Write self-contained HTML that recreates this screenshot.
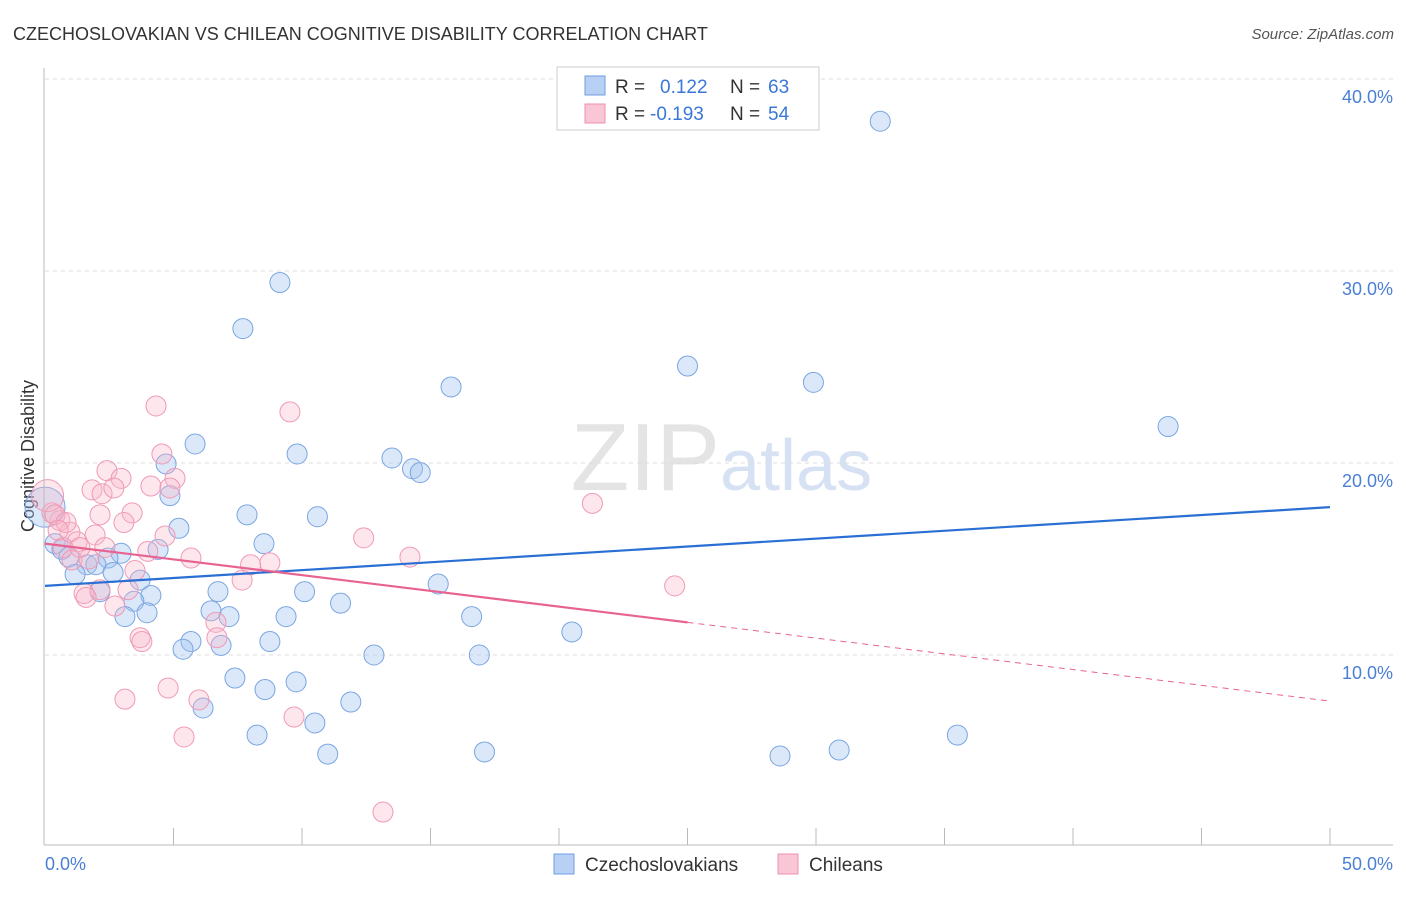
<!DOCTYPE html>
<html><head><meta charset="utf-8"><style>
body{margin:0;background:#fff;font-family:"Liberation Sans",sans-serif;}
svg text{font-family:"Liberation Sans",sans-serif;}
</style></head><body>
<svg id="c" width="1406" height="892" xmlns="http://www.w3.org/2000/svg">
<text x="13" y="40" font-size="18" fill="#333">CZECHOSLOVAKIAN VS CHILEAN COGNITIVE DISABILITY CORRELATION CHART</text>
<text x="1394" y="39" font-size="15" fill="#555" font-style="italic" text-anchor="end">Source: ZipAtlas.com</text>
<text x="720" y="490" font-size="96" fill="#e4e4e4" font-family="Liberation Serif" text-anchor="end">ZIP</text>
<text x="720" y="490" font-size="72" fill="#d6e2f4">atlas</text>
<text transform="translate(34,456) rotate(-90)" font-size="18" fill="#333" text-anchor="middle">Cognitive Disability</text>
<g id="grid"></g><g id="pts"></g><g id="trend"></g>
<line x1="44" y1="68" x2="44" y2="845" stroke="#bbb"/>
<line x1="44" y1="845" x2="1393" y2="845" stroke="#bbb"/>
<text x="45" y="870" font-size="18" fill="#4a7fd6">0.0%</text>
<text x="1393" y="870" font-size="18" fill="#4a7fd6" text-anchor="end">50.0%</text>
<g>
<rect x="557" y="67" width="262" height="63" fill="#fff" stroke="#ccc"/>
<rect x="585" y="76" width="20" height="19" fill="#b9d0f5" stroke="#6e9de0"/>
<rect x="585" y="104" width="20" height="19" fill="#f9c6d6" stroke="#ee8fae"/>
<text x="615" y="93" font-size="19" fill="#333">R =</text><text x="660" y="93" font-size="19" fill="#3a78d8">0.122</text>
<text x="730" y="93" font-size="19" fill="#333">N =</text><text x="768" y="93" font-size="19" fill="#3a78d8">63</text>
<text x="615" y="120" font-size="19" fill="#333">R =</text><text x="650" y="120" font-size="19" fill="#3a78d8">-0.193</text>
<text x="730" y="120" font-size="19" fill="#333">N =</text><text x="768" y="120" font-size="19" fill="#3a78d8">54</text>
</g>
<g>
<rect x="554" y="854" width="20" height="20" fill="#b9d0f5" stroke="#6e9de0"/>
<text x="585" y="871" font-size="19" fill="#333">Czechoslovakians</text>
<rect x="778" y="854" width="20" height="20" fill="#f9c6d6" stroke="#ee8fae"/>
<text x="809" y="871" font-size="19" fill="#333">Chileans</text>
</g>
</svg>
<script>
const yTicks=[10,20,30,40];
const yTickLabels=["10.0%","20.0%","30.0%","40.0%"];
const xTicks=[5,10,15,20,25,30,35,40,45,50];
const blueX=[32.5,9.14,7.7,25.0,29.9,15.8,43.7,5.84,9.81,13.5,4.71,14.3,14.6,4.86,7.86,10.6,5.21,8.52,0.39,4.4,0.66,2.96,0.93,2.45,1.63,1.98,2.65,1.17,3.7,15.3,6.73,10.1,2.14,4.12,3.46,11.5,6.46,7.16,3.11,3.97,9.38,16.6,20.5,5.68,8.75,5.37,6.85,12.8,16.9,7.39,8.56,9.77,11.9,6.15,10.5,8.25,11.0,17.1,28.6,30.9,35.5,0];
const blueY=[37.8,29.4,27.0,25.05,24.2,23.96,21.9,20.99,20.47,20.26,19.95,19.7,19.5,18.3,17.3,17.2,16.6,15.8,15.8,15.5,15.5,15.3,15.1,15.05,14.7,14.7,14.3,14.2,13.9,13.7,13.3,13.3,13.3,13.1,12.8,12.7,12.3,12.0,12.0,12.2,12.0,12.0,11.2,10.7,10.7,10.3,10.5,10.0,10.0,8.8,8.2,8.6,7.55,7.24,6.46,5.83,4.84,4.95,4.74,5.05,5.83,17.7];
const blueSize=[];blueSize[61]=2;
const pinkX=[4.32,9.53,4.55,2.41,1.83,2.96,2.22,2.68,4.12,5.06,4.86,21.3,3.39,2.14,3.07,0.58,0.27,0.1,0.97,1.95,12.4,4.67,1.25,0.7,2.33,4.0,5.68,14.2,1.05,1.71,8.75,3.5,8.0,7.67,24.5,2.14,1.52,3.23,2.72,6.65,6.69,3.7,3.77,4.79,3.11,5.99,9.69,5.41,13.15,0.39,0.82,1.36,0.51,1.6];
const pinkY=[22.97,22.66,20.47,19.6,18.6,19.2,18.4,18.7,18.8,19.2,18.7,17.9,17.4,17.3,16.9,17.0,17.4,18.3,16.4,16.25,16.1,16.2,15.9,15.6,15.6,15.4,15.05,15.1,14.95,15.0,14.8,14.4,14.7,13.9,13.6,13.4,13.2,13.4,12.55,11.7,10.9,10.9,10.7,8.28,7.7,7.66,6.77,5.73,1.82,17.3,16.9,15.6,16.5,13.0];
const pinkSize=[];pinkSize[17]=1.6;
const blueTrend=[13.6,17.7];
const pinkTrend=[15.8,7.6];
const pinkSolidEnd=25;
const X=v=>45+v*25.7, Y=v=>847-v*19.2;
const NS="http://www.w3.org/2000/svg";
function mk(tag,attrs,parent){const e=document.createElementNS(NS,tag);for(const k in attrs)e.setAttribute(k,attrs[k]);parent.appendChild(e);return e;}
const grid=document.getElementById('grid'),pts=document.getElementById('pts'),tr=document.getElementById('trend');
yTicks.forEach((t,i)=>{
 const l=mk('line',{x1:45,x2:1393,y1:Y(t),y2:Y(t),stroke:'#ddd','stroke-dasharray':'4,4'},grid);
 
 
 const tx=mk('text',{x:1393,y:Y(t)+24,'font-size':18,fill:'#4a7fd6','text-anchor':'end'},grid);
 tx.textContent=yTickLabels[i];
 
 
});
mk('line',{x1:45,x2:1393,y1:79,y2:79,stroke:'#ddd','stroke-dasharray':'4,4'},grid);
xTicks.forEach(t=>{
 const l=mk('line',{x1:X(t),x2:X(t),y1:828,y2:845,stroke:'#bbb'},grid);
 
 
});
function draw(xs,ys,sz,fill,stroke,name){
 xs.forEach((x,i)=>{
  const r=10*(sz[i]||1);
  const c=mk('circle',{cx:X(x),cy:Y(ys[i]),r:r,fill:fill,stroke:stroke,'stroke-width':1},pts);
  
  
 });
}
draw(blueX,blueY,blueSize,'rgba(160,195,240,0.38)','#7aa5e2','czechoslovakian-point');
draw(pinkX,pinkY,pinkSize,'rgba(248,180,200,0.32)','#f099b6','chilean-point');
const bl=mk('line',{x1:X(0),y1:Y(blueTrend[0]),x2:X(50),y2:Y(blueTrend[1]),stroke:'#2a6fd4','stroke-width':2.2},tr);


const pm=pinkTrend[0]+(pinkTrend[1]-pinkTrend[0])*pinkSolidEnd/50;
const pl=mk('line',{x1:X(0),y1:Y(pinkTrend[0]),x2:X(pinkSolidEnd),y2:Y(pm),stroke:'#e8638f','stroke-width':2.2},tr);


const pd=mk('line',{x1:X(pinkSolidEnd),y1:Y(pm),x2:X(50),y2:Y(pinkTrend[1]),stroke:'#e8638f','stroke-width':1,'stroke-dasharray':'6,5'},tr);


</script>
</body></html>
